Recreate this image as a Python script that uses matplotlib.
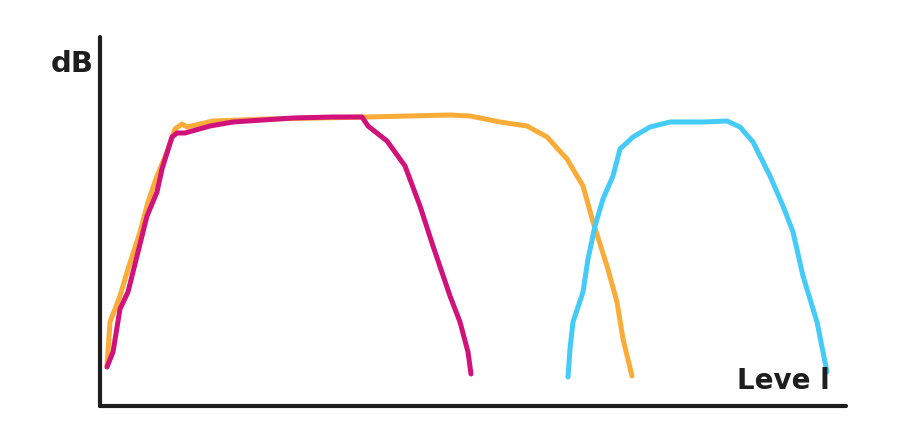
import matplotlib
matplotlib.use("Agg")
import matplotlib.pyplot as plt

# Sketch data (level, dB)
magenta_x = [7, 13, 20, 28, 37, 47, 57, 62, 72, 77, 85, 110, 133, 193, 233, 262, 268, 287, 305, 320, 333, 350, 360, 368, 371]
magenta_y = [39, 54, 97, 114, 150, 190, 214, 237, 269, 273, 273, 280, 284, 288, 289, 289, 280, 265, 240, 200, 160, 110, 84, 54, 32]

orange_x = [7, 10, 20, 28, 40, 48, 57, 67, 75, 82, 87, 113, 167, 267, 350, 370, 400, 427, 447, 467, 483, 493, 507, 517, 523, 532]
orange_y = [40, 84, 110, 137, 174, 204, 230, 254, 277, 282, 279, 285, 287, 289, 291, 290, 284, 280, 269, 247, 220, 184, 140, 104, 67, 30]

cyan_x = [468, 470, 473, 483, 488, 495, 503, 513, 520, 533, 550, 570, 603, 627, 640, 653, 670, 683, 693, 703, 717, 727]
cyan_y = [29, 57, 84, 114, 147, 180, 207, 230, 257, 269, 279, 284, 284, 285, 279, 264, 230, 200, 174, 130, 84, 34]

y_label = "dB"
x_label = "Leve l"

fig = plt.figure(figsize=(9, 4.35), dpi=100)
ax = fig.add_axes([100/900, (435-407)/435, 746/900, (407-38)/435])
ax.set_xlim(0, 746)
ax.set_ylim(0, 369)

ax.plot(orange_x, orange_y, color="#F9AD38", lw=3.6, solid_capstyle="round", solid_joinstyle="round")
ax.plot(magenta_x, magenta_y, color="#D0127A", lw=3.6, solid_capstyle="round", solid_joinstyle="round")
ax.plot(cyan_x, cyan_y, color="#45CBF7", lw=3.6, solid_capstyle="round", solid_joinstyle="round")

for s in ["top", "right"]:
    ax.spines[s].set_visible(False)
for s in ["left", "bottom"]:
    ax.spines[s].set_linewidth(3)
    ax.spines[s].set_color("#1e1e1e")
    ax.spines[s].set_capstyle("round")
ax.set_xticks([])
ax.set_yticks([])

fig.text(72/900, 1-64/435, y_label, ha="center", va="center", fontsize=21,
         fontweight="bold", color="#1e1e1e")
fig.text(783/900, 1-381/435, x_label, ha="center", va="center", fontsize=20,
         fontweight="bold", color="#1e1e1e")

fig.savefig("out.png", dpi=100)
